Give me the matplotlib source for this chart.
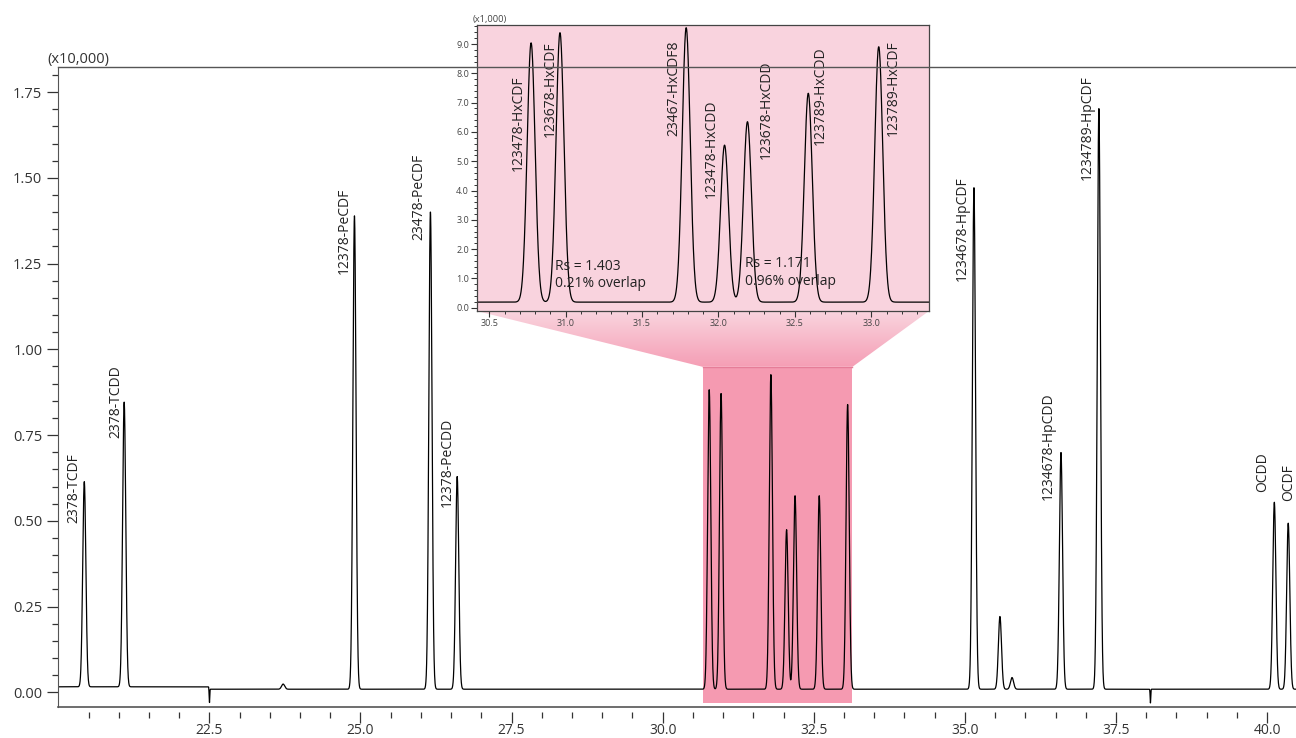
import numpy as np
import matplotlib
matplotlib.use("Agg")
import matplotlib.pyplot as plt
from matplotlib.patches import Rectangle, Polygon
from matplotlib.lines import Line2D
from matplotlib.ticker import MultipleLocator, FormatStrFormatter

plt.rcParams['font.family'] = ['Open Sans', 'DejaVu Sans']

# --- data (intensity x10,000) ---
main_rt = [20.43, 21.09, 23.72, 24.90, 26.157, 26.60,
           30.77, 30.966, 31.79, 32.05, 32.19, 32.59, 33.06,
           35.15, 35.58, 35.78, 36.59, 37.217, 40.12, 40.35]
main_height = [0.598, 0.830, 0.015, 1.380, 1.392, 0.620,
               0.873, 0.862, 0.917, 0.465, 0.564, 0.564, 0.830,
               1.462, 0.212, 0.034, 0.690, 1.694, 0.545, 0.484]
dip_rt = [22.50, 38.07]
dip_depth = [0.042, 0.040]
baseline_before = 0.016   # before the 22.5 min step
baseline_after = 0.009

label_names = ['2378-TCDF', '2378-TCDD', '12378-PeCDF', '23478-PeCDF',
               '12378-PeCDD', '1234678-HpCDF', '1234678-HpCDD',
               '1234789-HpCDF', 'OCDD', 'OCDF']
label_rt = [20.25, 20.95, 24.73, 25.96, 26.44, 34.96, 36.38, 37.03, 39.92, 40.35]
label_top = [0.697, 0.953, 1.472, 1.570, 0.800, 1.504, 0.873, 1.800, 0.699, 0.664]

# --- inset data (intensity x1,000) ---
inset_rt = [30.774, 30.963, 31.789, 32.04, 32.19, 32.588, 33.049]
inset_height = [8.85, 9.20, 9.37, 5.36, 6.16, 7.13, 8.72]
inset_baseline = 0.19
inset_names = ['123478-HxCDF', '123678-HxCDF', '23467-HxCDF8', '123478-HxCDD',
               '123678-HxCDD', '123789-HxCDD', '123789-HxCDF']
inset_label_rt = [30.687, 30.898, 31.706, 31.952, 32.31, 32.669, 33.147]
inset_label_top = [7.94, 9.08, 9.11, 7.09, 8.45, 8.91, 9.14]
rs_text = ['Rs = 1.403\n0.21% overlap', 'Rs = 1.171\n0.96% overlap']
rs_rt = [30.93, 32.175]
rs_y = [1.12, 1.20]

zoom_window = (30.66, 33.14)
zoom_top = 0.949


def peaks(t, rts, heights, sigma):
    y = np.zeros_like(t)
    for rt, h in zip(rts, heights):
        y += h*np.exp(-0.5*((t - rt)/sigma)**2)
    return y


def main():
    W, H = 1296, 738
    fig = plt.figure(figsize=(W/100, H/100), dpi=100)

    # --- main chromatogram ---
    ax = fig.add_axes([58.3/W, (H-706.7)/H, 1239/W, 640/H])
    t = np.arange(20.0, 40.5, 0.002)
    y = np.where(t < 22.5, baseline_before, baseline_after)
    y = y + peaks(t, main_rt, main_height, 0.026)
    y = y - peaks(t, dip_rt, dip_depth, 0.005)
    ax.add_patch(Rectangle((zoom_window[0], -0.031), zoom_window[1]-zoom_window[0],
                           zoom_top+0.031, facecolor='#f59ab1', edgecolor='none', zorder=1))
    ax.plot(zoom_window, [zoom_top, zoom_top], color='#e57d98', lw=1.0, zorder=1.5)
    ax.plot(t, y, color='black', lw=0.9, zorder=2)
    ax.set_xlim(20.0, 40.5)
    ax.set_ylim(-0.042, 1.824)

    for name, rt, top in zip(label_names, label_rt, label_top):
        ax.text(rt, top, name, rotation=90, ha='center', va='top', fontsize=10, color='#222222')

    ax.set_xticks(np.arange(22.5, 40.1, 2.5))
    ax.set_xticks(np.arange(20.5, 40.6, 0.5), minor=True)
    ax.xaxis.set_major_formatter(FormatStrFormatter('%.1f'))
    ax.yaxis.set_major_locator(MultipleLocator(0.25))
    ax.yaxis.set_minor_locator(MultipleLocator(0.05))
    ax.yaxis.set_major_formatter(FormatStrFormatter('%.2f'))
    ax.tick_params(axis='both', which='major', length=8, width=0.9, color='#333333',
                   labelsize=10.5, labelcolor='#333333', direction='out')
    ax.tick_params(axis='both', which='minor', length=4.5, width=0.9, color='#333333', direction='out')
    ax.tick_params(axis='x', which='major', labelsize=10, pad=0)
    for s in ['top', 'right']:
        ax.spines[s].set_visible(False)
    ax.spines['left'].set_color('#555555')
    ax.spines['bottom'].set_position(('outward', 4))
    ax.spines['bottom'].set_visible(False)
    ax.axhline(-0.042, color='#555555', lw=1.2, clip_on=False, zorder=3)
    ax.text(-0.009, 1.0, '(x10,000)', transform=ax.transAxes, ha='left', va='bottom',
            fontsize=10.5, color='#333333')

    # --- connector between zoom window and inset ---
    ins_box = [476.7, 311.0, 929.0]  # left, bottom, right (pixels)
    p_left = ax.transData.transform((zoom_window[0], zoom_top))
    p_right = ax.transData.transform((zoom_window[1], zoom_top))
    ov = fig.add_axes([0, 0, 1, 1], zorder=0.5)
    ov.set_xlim(0, W)
    ov.set_ylim(0, H)
    ov.set_axis_off()
    ov.patch.set_alpha(0)
    poly = Polygon([(ins_box[0], H-ins_box[1]), (ins_box[2], H-ins_box[1]),
                    p_right, p_left], closed=True, facecolor='none', edgecolor='none')
    ov.add_patch(poly)
    grad = np.linspace(0, 1, 100).reshape(-1, 1)
    c_top = np.array([249, 212, 222])/255
    c_bot = np.array([245, 158, 181])/255
    img = (c_top[None, None, :]*(1-grad[..., None]) + c_bot[None, None, :]*grad[..., None])
    im = ov.imshow(img, extent=[ins_box[0], ins_box[2], p_left[1], H-ins_box[1]],
                   aspect='auto', origin='upper', zorder=1)
    im.set_clip_path(poly)

    # --- inset ---
    axi = fig.add_axes([476.7/W, (H-311.0)/H, 452.3/W, 286/H], zorder=2)
    axi.set_facecolor('#f9d3de')
    ti = np.arange(30.3, 33.5, 0.002)
    yi = inset_baseline + peaks(ti, inset_rt, inset_height, 0.026)
    axi.plot(ti, yi, color='black', lw=0.9)
    axi.set_xlim(30.418, 33.378)
    axi.set_ylim(-0.113, 9.65)
    for name, rt, top in zip(inset_names, inset_label_rt, inset_label_top):
        axi.text(rt, top, name, rotation=90, ha='center', va='top', fontsize=10, color='#222222')
    for txt, rt, yy in zip(rs_text, rs_rt, rs_y):
        axi.text(rt, yy, txt, ha='left', va='center', fontsize=10, color='#222222', linespacing=1.25)
    axi.xaxis.set_major_locator(MultipleLocator(0.5))
    axi.xaxis.set_minor_locator(MultipleLocator(0.1))
    axi.xaxis.set_major_formatter(FormatStrFormatter('%.1f'))
    axi.yaxis.set_major_locator(MultipleLocator(1.0))
    axi.yaxis.set_minor_locator(MultipleLocator(0.2))
    axi.yaxis.set_major_formatter(FormatStrFormatter('%.1f'))
    axi.tick_params(axis='both', which='major', length=4, width=0.8, color='#333333',
                    labelsize=6.5, labelcolor='#444444', pad=1.5)
    axi.tick_params(axis='both', which='minor', length=2.5, width=0.7, color='#333333')
    for s in axi.spines.values():
        s.set_color('#444444')
        s.set_linewidth(0.9)
    axi.text(-0.01, 1.005, '(x1,000)', transform=axi.transAxes, ha='left', va='bottom',
             fontsize=6.7, color='#444444')

    # top border of the main chart runs over the inset
    fig.add_artist(Line2D([58.3/W, 1.0], [(H-66.7)/H]*2, transform=fig.transFigure,
                          color='#555555', lw=1.0, zorder=5))

    fig.savefig("out.png", dpi=100)


if __name__ == "__main__":
    main()
